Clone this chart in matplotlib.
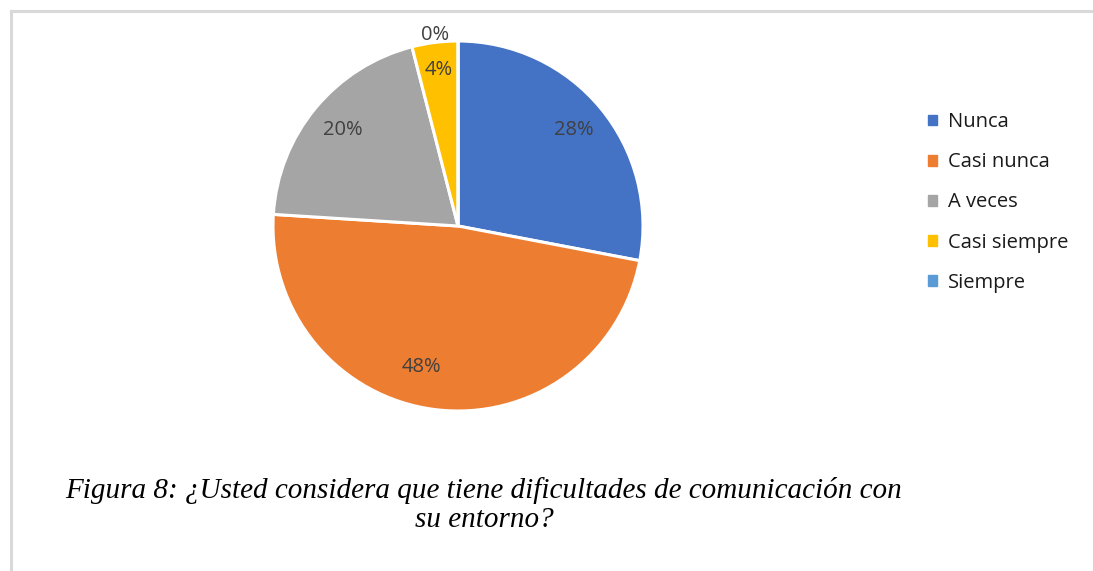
import matplotlib.pyplot as plt
from matplotlib.lines import Line2D

labels = ['Nunca', 'Casi nunca', 'A veces', 'Casi siempre', 'Siempre']
values = [28, 48, 20, 4, 0]
colors = ['#4472C4', '#ED7D31', '#A5A5A5', '#FFC000', '#5B9BD5']
caption = u'Figura 8: \u00bfUsted considera que tiene dificultades de comunicaci\u00f3n con\nsu entorno?'

fig = plt.figure(figsize=(10.93, 5.71), dpi=100)
W, H = 1093., 571.

# light frame (top and left edges only visible)
fig.add_artist(Line2D([11/W, 11/W], [0, 1 - 11/H], color='#d9d9d9', lw=2.2))
fig.add_artist(Line2D([11/W, 1], [1 - 11/H, 1 - 11/H], color='#d9d9d9', lw=2.2))

cx, cy, r = 458, 226, 185
ax = fig.add_axes([(cx - r)/W, (H - cy - r)/H, 2*r/W, 2*r/H])
wedges, texts, autotexts = ax.pie(values, colors=colors, startangle=90, counterclock=False,
                                  autopct='%1.0f%%', pctdistance=0.81, radius=1,
                                  wedgeprops=dict(edgecolor='white', linewidth=2.2),
                                  textprops=dict(color='#404040', fontsize=14.5, family='Open Sans'))
ax.set_xlim(-1, 1)
ax.set_ylim(-1, 1)
ax.set_aspect('equal')
ax.axis('off')

# nudge labels the way the original layout places them
autotexts[1].set_position((-0.20, -0.76))
autotexts[3].set_position((-0.105, 0.845))
autotexts[4].set_position((-0.125, 1.03))

handles = [plt.Rectangle((0, 0), 1, 1, color=c) for c in colors]
leg = fig.legend(handles, labels, loc='upper left', bbox_to_anchor=(910/W, 1 - 94/H),
                 frameon=False, handlelength=0.45, handleheight=0.45, handletextpad=0.55,
                 labelspacing=1.0, prop=dict(family='Open Sans', size=14.5))
for t in leg.get_texts():
    t.set_color('#1a1a1a')

fig.text(484/W, 1 - 505/H, caption, ha='center', va='center', fontsize=21,
         family='Liberation Serif', style='italic', linespacing=1.15)

fig.savefig('out.png', dpi=100)
